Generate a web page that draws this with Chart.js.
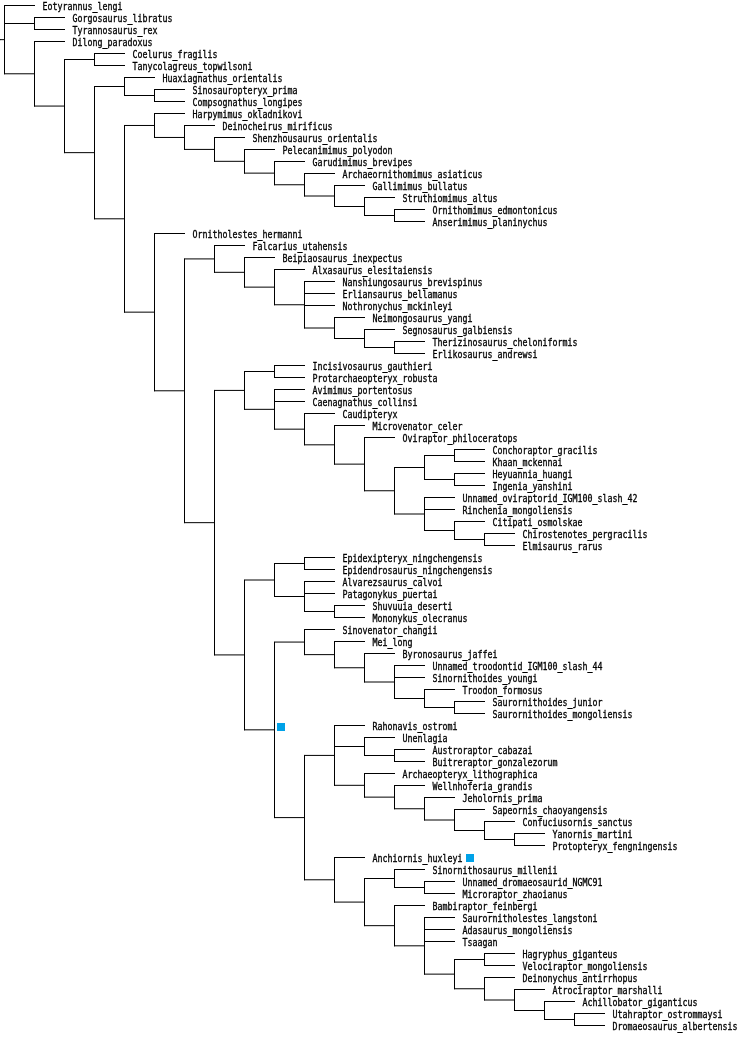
<!DOCTYPE html>
<html>
<head>
<meta charset="utf-8">
<script src="https://cdn.jsdelivr.net/npm/chart.js@4.4.1/dist/chart.umd.min.js"></script>
<style>
  html, body { margin: 0; padding: 0; background: #fff; }
  canvas { display: block; }
</style>
</head>
<body>
<canvas id="tree" width="747" height="1037"></canvas>
<script>
// clades as nested lists, tips in top-to-bottom order
const tyrannosauroids = ['Gorgosaurus_libratus', 'Tyrannosaurus_rex'];
const coelurids = ['Coelurus_fragilis', 'Tanycolagreus_topwilsoni'];
const compsognathids = ['Huaxiagnathus_orientalis', ['Sinosauropteryx_prima', 'Compsognathus_longipes']];
const ornithomimosaurs = ['Harpymimus_okladnikovi', ['Deinocheirus_mirificus', ['Shenzhousaurus_orientalis',
    ['Pelecanimimus_polyodon', ['Garudimimus_brevipes', ['Archaeornithomimus_asiaticus', ['Gallimimus_bullatus',
    ['Struthiomimus_altus', ['Ornithomimus_edmontonicus', 'Anserimimus_planinychus']]]]]]]]];
const therizinosaurs = ['Falcarius_utahensis', ['Beipiaosaurus_inexpectus', ['Alxasaurus_elesitaiensis',
    ['Nanshiungosaurus_brevispinus', 'Erliansaurus_bellamanus', 'Nothronychus_mckinleyi', ['Neimongosaurus_yangi',
    ['Segnosaurus_galbiensis', ['Therizinosaurus_cheloniformis', 'Erlikosaurus_andrewsi']]]]]]];
const oviraptorosaurs = [['Incisivosaurus_gauthieri', 'Protarchaeopteryx_robusta'],
    ['Avimimus_portentosus', 'Caenagnathus_collinsi', ['Caudipteryx', ['Microvenator_celer', ['Oviraptor_philoceratops',
    [[['Conchoraptor_gracilis', 'Khaan_mckennai'], ['Heyuannia_huangi', 'Ingenia_yanshini']],
     ['Unnamed_oviraptorid_IGM100_slash_42', 'Rinchenia_mongoliensis',
      ['Citipati_osmolskae', ['Chirostenotes_pergracilis', 'Elmisaurus_rarus']]]]]]]]];
const alvarezsaurs = [['Epidexipteryx_ningchengensis', 'Epidendrosaurus_ningchengensis'],
    ['Alvarezsaurus_calvoi', 'Patagonykus_puertai', ['Shuvuuia_deserti', 'Mononykus_olecranus']]];
const troodontids = ['Sinovenator_changii', ['Mei_long', ['Byronosaurus_jaffei', ['Unnamed_troodontid_IGM100_slash_44',
    'Sinornithoides_youngi', ['Troodon_formosus', ['Saurornithoides_junior', 'Saurornithoides_mongoliensis']]]]]];
const avialans = ['Rahonavis_ostromi', ['Unenlagia', ['Austroraptor_cabazai', 'Buitreraptor_gonzalezorum']],
    ['Archaeopteryx_lithographica', ['Wellnhoferia_grandis', ['Jeholornis_prima', ['Sapeornis_chaoyangensis',
    ['Confuciusornis_sanctus', ['Yanornis_martini', 'Protopteryx_fengningensis']]]]]]];
const dromaeosaurs = ['Anchiornis_huxleyi', [['Sinornithosaurus_millenii', ['Unnamed_dromaeosaurid_NGMC91', 'Microraptor_zhaoianus']],
    ['Bambiraptor_feinbergi', ['Saurornitholestes_langstoni', 'Adasaurus_mongoliensis', 'Tsaagan',
    [['Hagryphus_giganteus', 'Velociraptor_mongoliensis'], ['Deinonychus_antirrhopus', ['Atrociraptor_marshalli',
    ['Achillobator_giganticus', ['Utahraptor_ostrommaysi', 'Dromaeosaurus_albertensis']]]]]]]]];

const paravians = [troodontids, [avialans, dromaeosaurs]];
const tree = ['Eotyrannus_lengi', tyrannosauroids, ['Dilong_paradoxus', [coelurids, [compsognathids,
    [ornithomimosaurs, ['Ornitholestes_hermanni', [therizinosaurs, [oviraptorosaurs, [alvarezsaurs, paravians]]]]]]]]];

// highlighted clade / tip (blue squares)
const markedClades = [paravians];
const markedLeaves = ['Anchiornis_huxleyi'];
const markColor = '#00a2e8';

// layout: x = depth in tree, y = tip row
const leaves = [];
const nodes = [];
function layout(item, depth) {
    if (typeof item === 'string') {
        const leaf = { name: item, x: depth, y: leaves.length };
        leaves.push(leaf);
        return leaf;
    }
    const kids = item.map((c) => layout(c, depth + 1));
    const node = { x: depth, y: (kids[0].y + kids[kids.length - 1].y) / 2, kids, src: item };
    nodes.push(node);
    return node;
}
const root = layout(tree, 0);

const PX_X = 30;   // px per depth step
const PX_Y = 12;   // px per tip row
const W = 747, H = 1037;
const xMin = -4.5 / PX_X;
const yMin = -5.5 / PX_Y;

const gap = { x: null, y: null };
const edges = [{ x: xMin, y: root.y }, { x: root.x, y: root.y }, gap];
nodes.forEach((n) => {
    const first = n.kids[0];
    const last = n.kids[n.kids.length - 1];
    edges.push({ x: n.x, y: first.y }, { x: n.x, y: last.y }, gap);
    n.kids.forEach((k) => edges.push({ x: n.x, y: k.y }, { x: k.x, y: k.y }, gap));
});

const tipLabels = {
    id: 'tipLabels',
    afterDatasetsDraw(chart) {
        const { ctx, scales: { x, y } } = chart;
        ctx.save();
        ctx.font = '11px "DejaVu Sans Mono"';
        ctx.textBaseline = 'alphabetic';
        const sx = 5 / ctx.measureText('M').width;
        leaves.forEach((leaf) => {
            const px = x.getPixelForValue(leaf.x) + 8;
            const py = y.getPixelForValue(leaf.y);
            ctx.save();
            ctx.translate(px, py + 4);
            ctx.scale(sx, 1);
            ctx.fillStyle = '#000';
            ctx.strokeStyle = '#000';
            ctx.lineWidth = 0.35;
            ctx.fillText(leaf.name, 0, 0);
            ctx.strokeText(leaf.name, 0, 0);
            ctx.restore();
            if (markedLeaves.includes(leaf.name)) {
                const w = ctx.measureText(leaf.name).width * sx;
                ctx.fillStyle = markColor;
                ctx.fillRect(Math.round(px + w + 3), Math.round(py - 3.5), 8, 8);
            }
        });
        nodes.filter((n) => markedClades.includes(n.src)).forEach((n) => {
            const px = x.getPixelForValue(n.x);
            const py = y.getPixelForValue(n.y);
            ctx.fillStyle = markColor;
            ctx.fillRect(Math.round(px + 2.5), Math.round(py - 6.5), 8, 8);
        });
        ctx.restore();
    }
};

new Chart(document.getElementById('tree'), {
    type: 'line',
    data: {
        datasets: [{
            data: edges,
            borderColor: '#000',
            borderWidth: 1,
            borderCapStyle: 'square',
            pointRadius: 0,
            tension: 0,
            fill: false,
            spanGaps: false,
        }],
    },
    options: {
        responsive: false,
        animation: false,
        events: [],
        layout: { padding: 0 },
        plugins: { legend: { display: false }, tooltip: { enabled: false } },
        scales: {
            x: { type: 'linear', display: false, min: xMin, max: xMin + W / PX_X },
            y: { type: 'linear', display: false, reverse: true, min: yMin, max: yMin + H / PX_Y },
        },
    },
    plugins: [tipLabels],
});
</script>
</body>
</html>
